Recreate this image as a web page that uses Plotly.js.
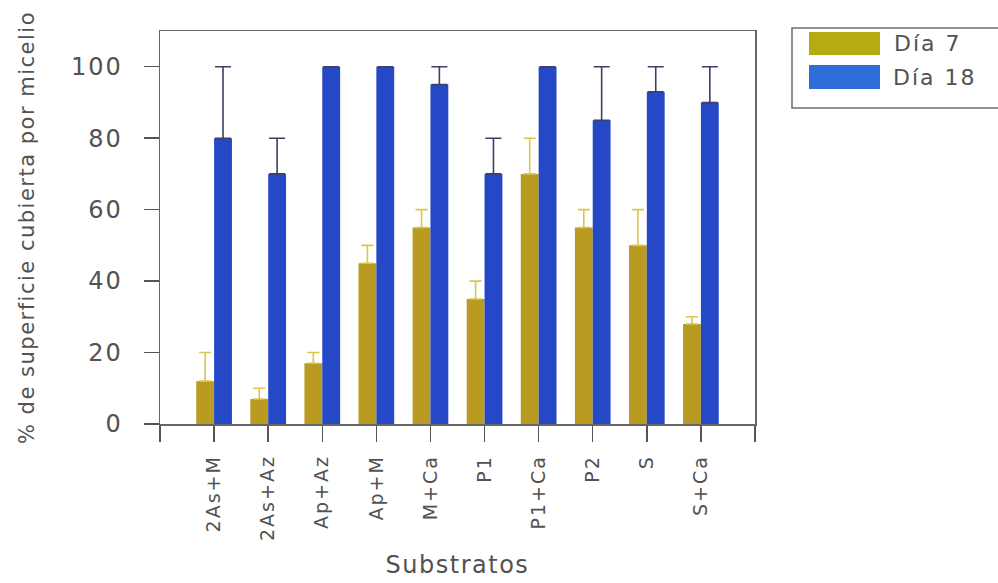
<!DOCTYPE html>
<html>
<head>
<meta charset="utf-8">
<script src="https://cdn.plot.ly/plotly-3.0.1.min.js"></script>
<style>
  html, body { margin: 0; padding: 0; background: #ffffff; }
  #chart { width: 998px; height: 583px; }
  /* wide, loosely tracked lettering */
  #chart .xtick text, #chart .ytick text { letter-spacing: 2px; }
  #chart .g-xtitle text, #chart .g-ytitle text { letter-spacing: 1.5px; }
  #chart .annotation-text { letter-spacing: 2px; }
</style>
</head>
<body>
<div id="chart"></div>
<script>
// Substrates tested
const substratos = ["2As+M", "2As+Az", "Ap+Az", "Ap+M", "M+Ca", "P1", "P1+Ca", "P2", "S", "S+Ca"];

// % of surface covered by mycelium, day 7
const dia7 = [12, 7, 17, 45, 55, 35, 70, 55, 50, 28];
const dia7Err = [8, 3, 3, 5, 5, 5, 10, 5, 10, 2];

// % of surface covered by mycelium, day 18
const dia18 = [80, 70, 100, 100, 95, 70, 100, 85, 93, 90];
const dia18Err = [20, 10, null, null, 5, 10, null, 15, 7, 10];

const seriesNames = ["Día 7", "Día 18"];
const yTicks = [0, 20, 40, 60, 80, 100];

const colYellow = "#b99b22";
const colBlue = "#2448c6";
const colYellowKey = "#b5ab12";
const colBlueKey = "#2e6cd6";
const textCol = "#525252";
const FONT = "DejaVu Sans, Verdana, sans-serif";

const W = 998, H = 583;
const M = { l: 160, r: 243, t: 31, b: 159 };
const pw = W - M.l - M.r, ph = H - M.t - M.b;
// pixel -> paper coordinates (for the key box drawn beside the plot)
const px = x => (x - M.l) / pw;
const py = y => (H - M.b - y) / ph;

const idx = substratos.map((_, i) => i);
const zeros = idx.map(() => 0);

const traces = [
  {
    type: "bar", name: seriesNames[0], x: idx, y: dia7,
    marker: { color: colYellow, line: { width: 0 } },
    error_y: { type: "data", symmetric: false, array: dia7Err, arrayminus: zeros,
               color: "#d9c64a", thickness: 1.6, width: 6 },
    showlegend: false, hoverinfo: "y"
  },
  {
    type: "bar", name: seriesNames[1], x: idx, y: dia18,
    marker: { color: colBlue, line: { width: 0 } },
    error_y: { type: "data", symmetric: false, array: dia18Err, arrayminus: zeros,
               color: "#3c3f66", thickness: 1.6, width: 8 },
    showlegend: false, hoverinfo: "y"
  }
];

const tickVals = [-1].concat(idx, [substratos.length]);
const tickText = [""].concat(substratos, [""]);

const shapes = [
  // key frame
  { type: "rect", xref: "paper", yref: "paper", x0: px(792), x1: px(1003), y0: py(108), y1: py(28),
    line: { color: "#6e6e6e", width: 1.5 }, fillcolor: "rgba(0,0,0,0)" },
  // key swatches
  { type: "rect", xref: "paper", yref: "paper", x0: px(809), x1: px(880), y0: py(55), y1: py(32),
    line: { width: 0 }, fillcolor: colYellowKey },
  { type: "rect", xref: "paper", yref: "paper", x0: px(809), x1: px(880), y0: py(89), y1: py(65),
    line: { width: 0 }, fillcolor: colBlueKey }
];

const annotations = [
  { xref: "paper", yref: "paper", x: px(897), y: py(43), text: seriesNames[0], showarrow: false,
    xanchor: "left", yanchor: "middle", font: { family: FONT, size: 22, color: textCol } },
  { xref: "paper", yref: "paper", x: px(897), y: py(77), text: seriesNames[1], showarrow: false,
    xanchor: "left", yanchor: "middle", font: { family: FONT, size: 22, color: textCol } }
];

const layout = {
  width: W, height: H,
  margin: M,
  paper_bgcolor: "#ffffff", plot_bgcolor: "#ffffff",
  barmode: "group", bargap: 0.34, bargroupgap: 0,
  showlegend: false,
  font: { family: FONT, color: textCol },
  xaxis: {
    range: [-1, substratos.length], tickmode: "array", tickvals: tickVals, ticktext: tickText,
    tickangle: -90, ticks: "outside", ticklen: 16, tickwidth: 1.5, tickcolor: "#555",
    ticklabelstandoff: 6,
    showline: true, linecolor: "#666", linewidth: 1.5, mirror: true,
    showgrid: false, zeroline: false,
    tickfont: { family: FONT, size: 19, color: textCol },
    title: { text: "Substratos", font: { family: FONT, size: 24, color: textCol }, standoff: 28 }
  },
  yaxis: {
    range: [0, 110], tickmode: "array", tickvals: yTicks,
    ticks: "outside", ticklen: 15, tickwidth: 1.5, tickcolor: "#555",
    ticklabelstandoff: 16,
    showline: true, linecolor: "#666", linewidth: 1.5, mirror: true,
    showgrid: false, zeroline: false,
    tickfont: { family: FONT, size: 24, color: textCol },
    title: { text: "% de superficie cubierta por micelio", font: { family: FONT, size: 21, color: textCol }, standoff: 36 }
  },
  shapes: shapes,
  annotations: annotations
};

Plotly.newPlot("chart", traces, layout, { displayModeBar: false, staticPlot: true });
</script>
</body>
</html>
